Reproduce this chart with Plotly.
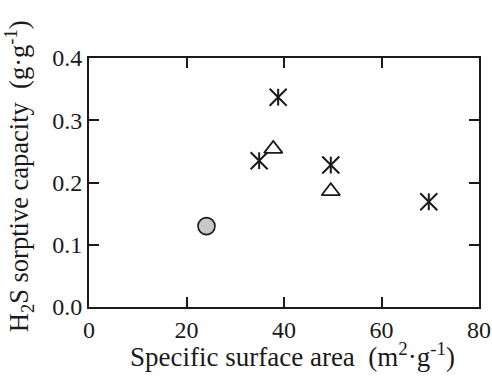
import plotly.graph_objects as go

# Data
circle_x = [24.1]
circle_y = [0.130]
triangle_x = [37.8, 49.6]
triangle_y = [0.254, 0.186]
star_x = [34.9, 38.8, 49.6, 69.7]
star_y = [0.235, 0.337, 0.228, 0.169]

x_ticks = [0, 20, 40, 60, 80]
y_ticks = [0.0, 0.1, 0.2, 0.3, 0.4]
y_tick_text = ["0.0", "0.1", "0.2", "0.3", "0.4"]

INK = "#1a1a1a"
FONT = "Liberation Serif"

fig = go.Figure()
fig.add_trace(go.Scatter(x=circle_x, y=circle_y, mode="markers",
                         marker=dict(symbol="circle", size=17, color="#c8c8c8",
                                     line=dict(color=INK, width=1.6)),
                         showlegend=False, hoverinfo="skip"))
fig.add_trace(go.Scatter(x=triangle_x, y=triangle_y, mode="markers",
                         marker=dict(symbol="triangle-up-open", size=16, color=INK,
                                     line=dict(color=INK, width=1.8)),
                         showlegend=False, hoverinfo="skip"))
fig.add_trace(go.Scatter(x=star_x, y=star_y, mode="markers",
                         marker=dict(symbol="x-thin-open", size=17, color=INK,
                                     line=dict(color=INK, width=2)),
                         showlegend=False, hoverinfo="skip"))
fig.add_trace(go.Scatter(x=star_x, y=star_y, mode="markers",
                         marker=dict(symbol="line-ns-open", size=12, color=INK,
                                     line=dict(color=INK, width=2)),
                         showlegend=False, hoverinfo="skip"))

fig.update_layout(
    width=492, height=377,
    margin=dict(l=89, r=13, t=58, b=70, autoexpand=False),
    paper_bgcolor="white", plot_bgcolor="white",
    font=dict(family=FONT, color=INK, size=24),
    xaxis=dict(range=[0, 80], tickmode="array", tickvals=x_ticks,
               ticktext=[str(v) for v in x_ticks],
               showgrid=False, zeroline=False, showline=True, linecolor=INK,
               linewidth=2, mirror="allticks", ticks="inside", ticklen=10,
               tickwidth=1.5, tickcolor=INK,
               tickfont=dict(family=FONT, size=24, color=INK)),
    yaxis=dict(range=[0, 0.4], tickmode="array", tickvals=y_ticks,
               ticktext=y_tick_text,
               showgrid=False, zeroline=False, showline=True, linecolor=INK,
               linewidth=2, mirror="allticks", ticks="inside", ticklen=10,
               tickwidth=1.5, tickcolor=INK,
               tickfont=dict(family=FONT, size=24, color=INK)),
    annotations=[
        dict(text="Specific surface area\u00a0\u00a0(m<sup>2</sup>\u00b7g<sup>-1</sup>)",
             xref="paper", yref="paper", x=0.523, y=-0.193,
             xanchor="center", yanchor="middle", showarrow=False,
             font=dict(family=FONT, size=27, color=INK)),
        dict(text="H<sub>2</sub>S sorptive capacity\u00a0\u00a0(g\u00b7g<sup>-1</sup>)",
             xref="paper", yref="paper", x=-0.179, y=0.526,
             xanchor="center", yanchor="middle", textangle=-90, showarrow=False,
             font=dict(family=FONT, size=26.5, color=INK)),
    ],
)

fig.write_html("out.html", config={"displayModeBar": False},
               post_script="document.body.style.margin='0px';")
